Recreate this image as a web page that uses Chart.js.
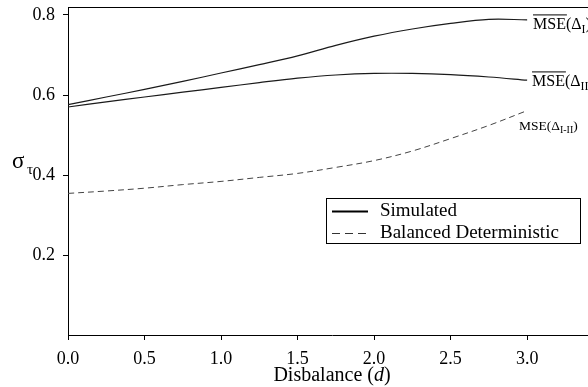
<!DOCTYPE html>
<html>
<head>
<meta charset="utf-8">
<script src="https://cdn.jsdelivr.net/npm/chart.js@4.4.1/dist/chart.umd.min.js"></script>
<style>
  html, body { margin: 0; padding: 0; background: #fff; overflow: hidden; }
  #wrap { width: 596px; height: 387px; position: relative; }
</style>
</head>
<body>
<div id="wrap"><canvas id="chart"></canvas></div>
<script>
// disbalance values (x) and the three curves
const dValues = [0, 0.25, 0.5, 0.75, 1.0, 1.25, 1.5, 1.75, 2.0, 2.25, 2.5, 2.75, 3.0];
const mseI = [0.576, 0.595, 0.614, 0.634, 0.655, 0.676, 0.698, 0.724, 0.747, 0.765, 0.779, 0.789, 0.788];
const mseII = [0.570, 0.583, 0.595, 0.607, 0.619, 0.631, 0.642, 0.650, 0.654, 0.654, 0.651, 0.645, 0.637];
const mseDet = [0.354, 0.360, 0.367, 0.376, 0.384, 0.394, 0.404, 0.419, 0.436, 0.460, 0.491, 0.524, 0.561];

const xTicks = [0, 0.5, 1.0, 1.5, 2.0, 2.5, 3.0];
const yTicks = [0.2, 0.4, 0.6, 0.8];
const legendLabels = ['Simulated', 'Balanced Deterministic'];

const SERIF = '"Liberation Serif", "Times New Roman", serif';

const toPoints = ys => dValues.map((d, i) => ({ x: d, y: ys[i] }));

// write "MSE(Δ" + subscript + ")" with optional bar over MSE
function drawMseLabel(ctx, x, y, size, sub, bar) {
  ctx.font = size + 'px ' + SERIF;
  ctx.textBaseline = 'alphabetic';
  ctx.textAlign = 'left';
  const head = 'MSE';
  const wHead = ctx.measureText(head).width;
  ctx.fillText(head, x, y);
  if (bar) {
    ctx.beginPath();
    ctx.moveTo(x, y - size * 0.88);
    ctx.lineTo(x + wHead + 1, y - size * 0.88);
    ctx.lineWidth = 1;
    ctx.stroke();
  }
  let cx = x + wHead;
  ctx.fillText('(Δ', cx, y);
  cx += ctx.measureText('(Δ').width;
  ctx.font = Math.round(size * 0.72) + 'px ' + SERIF;
  ctx.fillText(sub, cx, y + size * 0.25);
  cx += ctx.measureText(sub).width;
  ctx.font = size + 'px ' + SERIF;
  ctx.fillText(')', cx, y);
}

const annotations = {
  id: 'annotations',
  afterDraw(chart) {
    const { ctx, chartArea } = chart;
    ctx.save();
    ctx.strokeStyle = '#000';
    ctx.fillStyle = '#000';

    // top frame line
    ctx.beginPath();
    ctx.lineWidth = 1;
    ctx.moveTo(chartArea.left, chartArea.top + 0.5);
    ctx.lineTo(chartArea.right, chartArea.top + 0.5);
    ctx.stroke();

    // curve labels
    drawMseLabel(ctx, 533, 29, 16, 'I', true);
    drawMseLabel(ctx, 532, 86, 16, 'II', true);
    drawMseLabel(ctx, 519, 130, 13.5, 'I-II', false);

    // y axis label: sigma_tau
    ctx.font = '23px ' + SERIF;
    ctx.fillText('σ', 12, 168);
    ctx.font = '15px ' + SERIF;
    ctx.fillText('τ', 27, 174);

    // x axis title with italic d
    const parts = [['Disbalance (', 'normal'], ['d', 'italic'], [')', 'normal']];
    let total = 0;
    parts.forEach(p => { ctx.font = p[1] + ' 20px ' + SERIF; total += ctx.measureText(p[0]).width; });
    let tx = 332 - total / 2;
    parts.forEach(p => {
      ctx.font = p[1] + ' 20px ' + SERIF;
      ctx.fillText(p[0], tx, 381);
      tx += ctx.measureText(p[0]).width;
    });

    // legend box
    ctx.lineWidth = 1;
    ctx.strokeRect(326.5, 198.5, 254, 45);
    ctx.beginPath();
    ctx.lineWidth = 2;
    ctx.moveTo(332, 211.5);
    ctx.lineTo(368, 211.5);
    ctx.stroke();
    ctx.beginPath();
    ctx.lineWidth = 1;
    ctx.strokeStyle = '#333';
    ctx.setLineDash([8, 5]);
    ctx.moveTo(332, 233.5);
    ctx.lineTo(368, 233.5);
    ctx.stroke();
    ctx.setLineDash([]);
    ctx.font = '19px ' + SERIF;
    ctx.textBaseline = 'middle';
    ctx.fillText(legendLabels[0], 380, 211);
    ctx.fillText(legendLabels[1], 380, 233);
    ctx.restore();
  }
};

new Chart(document.getElementById('chart'), {
  type: 'line',
  data: {
    datasets: [
      { data: toPoints(mseI), borderColor: '#1a1a1a', borderWidth: 1.2 },
      { data: toPoints(mseII), borderColor: '#1a1a1a', borderWidth: 1.2 },
      { data: toPoints(mseDet), borderColor: '#444', borderWidth: 1, borderDash: [6, 4] }
    ]
  },
  options: {
    responsive: true,
    maintainAspectRatio: false,
    animation: false,
    layout: { padding: { top: 7, left: 0, right: 0, bottom: 0 } },
    elements: {
      point: { radius: 0 },
      line: { tension: 0.35, fill: false }
    },
    plugins: {
      legend: { display: false },
      tooltip: { enabled: false }
    },
    scales: {
      x: {
        type: 'linear',
        min: 0,
        max: 3.45,
        afterBuildTicks: axis => { axis.ticks = xTicks.map(v => ({ value: v })); },
        afterFit: axis => { axis.height = 52; axis.paddingLeft = 0; axis.paddingRight = 0; },
        grid: { drawOnChartArea: false, drawTicks: true, tickLength: 5, color: '#000' },
        border: { display: true, color: '#000', width: 1 },
        ticks: {
          color: '#000',
          padding: 8,
          maxRotation: 0,
          font: { family: SERIF, size: 18 },
          callback: v => Number(v).toFixed(1)
        }
      },
      y: {
        min: 0,
        max: 0.82,
        afterBuildTicks: axis => { axis.ticks = yTicks.map(v => ({ value: v })); },
        afterFit: axis => { axis.width = 68; axis.paddingTop = 0; axis.paddingBottom = 0; },
        grid: { drawOnChartArea: false, drawTicks: true, tickLength: 5, color: '#000' },
        border: { display: true, color: '#000', width: 1 },
        ticks: {
          color: '#000',
          padding: 8,
          font: { family: SERIF, size: 18 },
          callback: v => Number(v).toFixed(1)
        }
      }
    }
  },
  plugins: [annotations]
});
</script>
</body>
</html>
